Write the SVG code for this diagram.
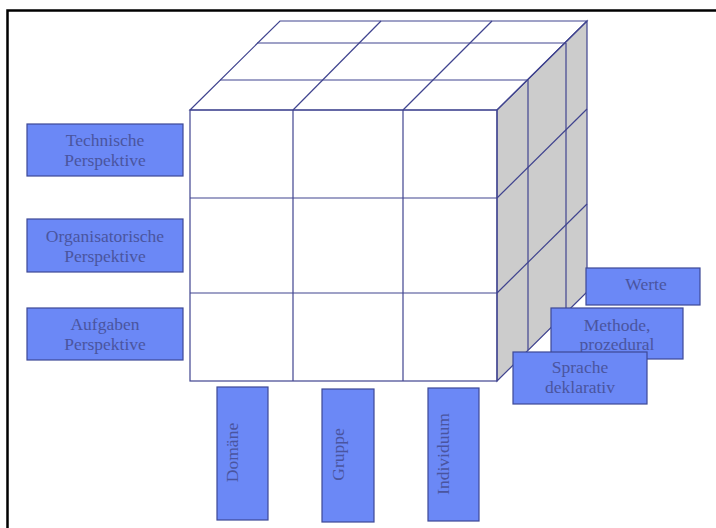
<svg xmlns="http://www.w3.org/2000/svg" width="716" height="528" viewBox="0 0 716 528">
  <style>
    .ln { stroke: #40448f; stroke-width: 1.2; fill: none; }
    .box { fill: #6b88f6; stroke: #3d4896; stroke-width: 1.2; }
    .t { font-family: "Liberation Serif", "Times New Roman", serif; font-size: 17.5px; fill: #4a559f; text-anchor: middle; }
  </style>
  <rect x="0" y="0" width="716" height="528" fill="#ffffff"/>
  <path d="M7.5,528 V10.5 H716" fill="none" stroke="#000" stroke-width="2.5"/>

  <g id="cube">
    <polygon points="190,110 280,21 587,21 497,110" fill="#ffffff"/>
    <polygon points="497,110 587,21 587,292 497,381" fill="#cccccc"/>
    <rect x="190" y="110" width="307" height="271" fill="#ffffff"/>
    <polygon class="ln" points="190,110 280,21 587,21 497,110"/>
    <line class="ln" x1="220" y1="80" x2="528" y2="80"/>
    <line class="ln" x1="257" y1="43" x2="566" y2="43"/>
    <line class="ln" x1="293" y1="110" x2="381" y2="21"/>
    <line class="ln" x1="403" y1="110" x2="492" y2="21"/>
    <polygon class="ln" points="497,110 587,21 587,292 497,381"/>
    <line class="ln" x1="528" y1="80" x2="528" y2="350"/>
    <line class="ln" x1="566" y1="43" x2="566" y2="313"/>
    <line class="ln" x1="497" y1="198" x2="587" y2="109"/>
    <line class="ln" x1="497" y1="293" x2="587" y2="204"/>
    <rect class="ln" x="190" y="110" width="307" height="271"/>
    <line class="ln" x1="293" y1="110" x2="293" y2="381"/>
    <line class="ln" x1="403" y1="110" x2="403" y2="381"/>
    <line class="ln" x1="190" y1="198" x2="497" y2="198"/>
    <line class="ln" x1="190" y1="293" x2="497" y2="293"/>
  </g>

  <g id="technische">
    <rect class="box" x="27" y="124" width="156" height="52"/>
    <text class="t" x="105" y="146">Technische</text>
    <text class="t" x="105" y="165.5">Perspektive</text>
  </g>
  <g id="organisatorische">
    <rect class="box" x="27" y="219" width="156" height="53"/>
    <text class="t" x="105" y="241.5">Organisatorische</text>
    <text class="t" x="105" y="261.5">Perspektive</text>
  </g>
  <g id="aufgaben">
    <rect class="box" x="27" y="308" width="156" height="52"/>
    <text class="t" x="105" y="330">Aufgaben</text>
    <text class="t" x="105" y="350">Perspektive</text>
  </g>

  <g id="werte">
    <rect class="box" x="586" y="268" width="114" height="37"/>
    <text class="t" x="646" y="290">Werte</text>
  </g>
  <g id="methode">
    <rect class="box" x="551" y="308" width="132" height="51"/>
    <text class="t" x="617" y="331">Methode,</text>
    <text class="t" x="617" y="350">prozedural</text>
  </g>
  <g id="sprache">
    <rect class="box" x="513" y="352" width="134" height="52"/>
    <text class="t" x="580" y="373">Sprache</text>
    <text class="t" x="580" y="393">deklarativ</text>
  </g>

  <g id="domaene">
    <rect class="box" x="217" y="387" width="51" height="133"/>
    <text class="t" transform="translate(238,452.5) rotate(-90)">Domäne</text>
  </g>
  <g id="gruppe">
    <rect class="box" x="322" y="389" width="52" height="133"/>
    <text class="t" transform="translate(344,454.5) rotate(-90)">Gruppe</text>
  </g>
  <g id="individuum">
    <rect class="box" x="428" y="388" width="51" height="133"/>
    <text class="t" transform="translate(449,454) rotate(-90)">Individuum</text>
  </g>

  <g id="connectors"/>
</svg>
